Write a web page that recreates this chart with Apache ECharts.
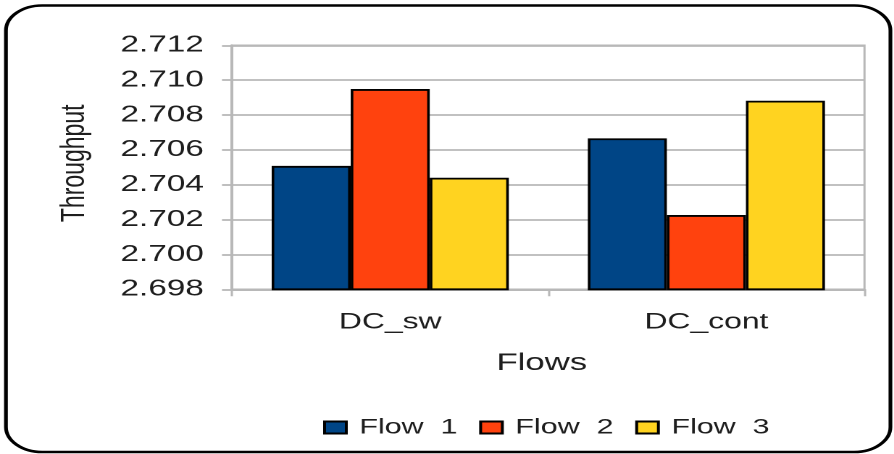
<!DOCTYPE html>
<html>
<head>
<meta charset="utf-8">
<script src="https://cdn.jsdelivr.net/npm/echarts@6/dist/echarts.min.js"></script>
<style>
  html, body { margin: 0; padding: 0; background: #fff; overflow: hidden; }
  #wrap { width: 894px; height: 454px; overflow: hidden; }
  /* the chart is laid out narrow and widened horizontally */
  #chart { width: 617px; height: 454px; transform: scaleX(1.449); transform-origin: 0 0; }
</style>
</head>
<body>
<div id="wrap"><div id="chart"></div></div>
<script>
// Throughput per flow in each configuration
const categories = ['DC_sw', 'DC_cont'];
const seriesNames = ['Flow  1', 'Flow  2', 'Flow  3'];
const flow1 = [2.70508, 2.70666];
const flow2 = [2.70949, 2.70226];
const flow3 = [2.70440, 2.70882];
const yMin = 2.698;
const yMax = 2.712;
const yStep = 0.002;

const colors = ['#004586', '#ff420e', '#ffd320'];
const gridGrey = '#b8b8b8';
const textColor = '#1e1e1e';
const font = 'Liberation Sans, Arial, sans-serif';

const chart = echarts.init(document.getElementById('chart'), null, { devicePixelRatio: 2 });

const seriesData = [flow1, flow2, flow3];

chart.setOption({
  backgroundColor: '#fff',
  animation: false,
  textStyle: { fontFamily: font },
  graphic: [{
    type: 'rect',
    silent: true,
    z: -1,
    shape: { x: 4.1, y: 5.5, width: 610.4, height: 446.5, r: 25 },
    style: { fill: 'none', stroke: '#000', lineWidth: 2.6 }
  }],
  grid: {
    left: 160.2, right: 20.4, top: 45.3, bottom: 164.7,
    show: true, borderColor: gridGrey, borderWidth: 1.5, backgroundColor: 'transparent'
  },
  legend: {
    left: 223, top: 417, padding: 0,
    itemWidth: 15, itemHeight: 12, itemGap: 15,
    icon: 'rect',
    textStyle: { fontSize: 21, color: textColor, fontFamily: font, padding: [0, 0, 0, 4] },
    data: seriesNames
  },
  xAxis: {
    type: 'category',
    data: categories,
    axisLine: { show: true, lineStyle: { color: gridGrey, width: 2 } },
    axisTick: { show: true, length: 7, alignWithLabel: false, lineStyle: { color: gridGrey, width: 1.5 } },
    axisLabel: { fontSize: 22, color: textColor, margin: 22, fontFamily: font },
    name: 'Flows',
    nameLocation: 'middle',
    nameGap: 62,
    nameTextStyle: { fontSize: 24, color: textColor, fontFamily: font, padding: [0, 9, 0, 0] }
  },
  yAxis: {
    type: 'value',
    min: yMin, max: yMax, interval: yStep,
    axisLine: { show: true, lineStyle: { color: gridGrey, width: 2 } },
    axisTick: { show: true, length: 7, lineStyle: { color: gridGrey, width: 1.8 } },
    splitLine: { show: true, lineStyle: { color: gridGrey, width: 1.8 } },
    axisLabel: {
      fontSize: 23, color: textColor, margin: 19.5, fontFamily: font,
      formatter: v => v.toFixed(3)
    },
    name: 'Throughput',
    nameLocation: 'middle',
    nameGap: 97,
    nameTextStyle: { fontSize: 23, color: textColor, fontFamily: font, padding: [0, 0, 0, 8] }
  },
  series: seriesNames.map((name, i) => ({
    name: name,
    type: 'bar',
    data: seriesData[i],
    barGap: '0%',
    barCategoryGap: '25%',
    itemStyle: { color: colors[i], borderColor: '#000', borderWidth: 1.8 }
  }))
});
</script>
</body>
</html>
